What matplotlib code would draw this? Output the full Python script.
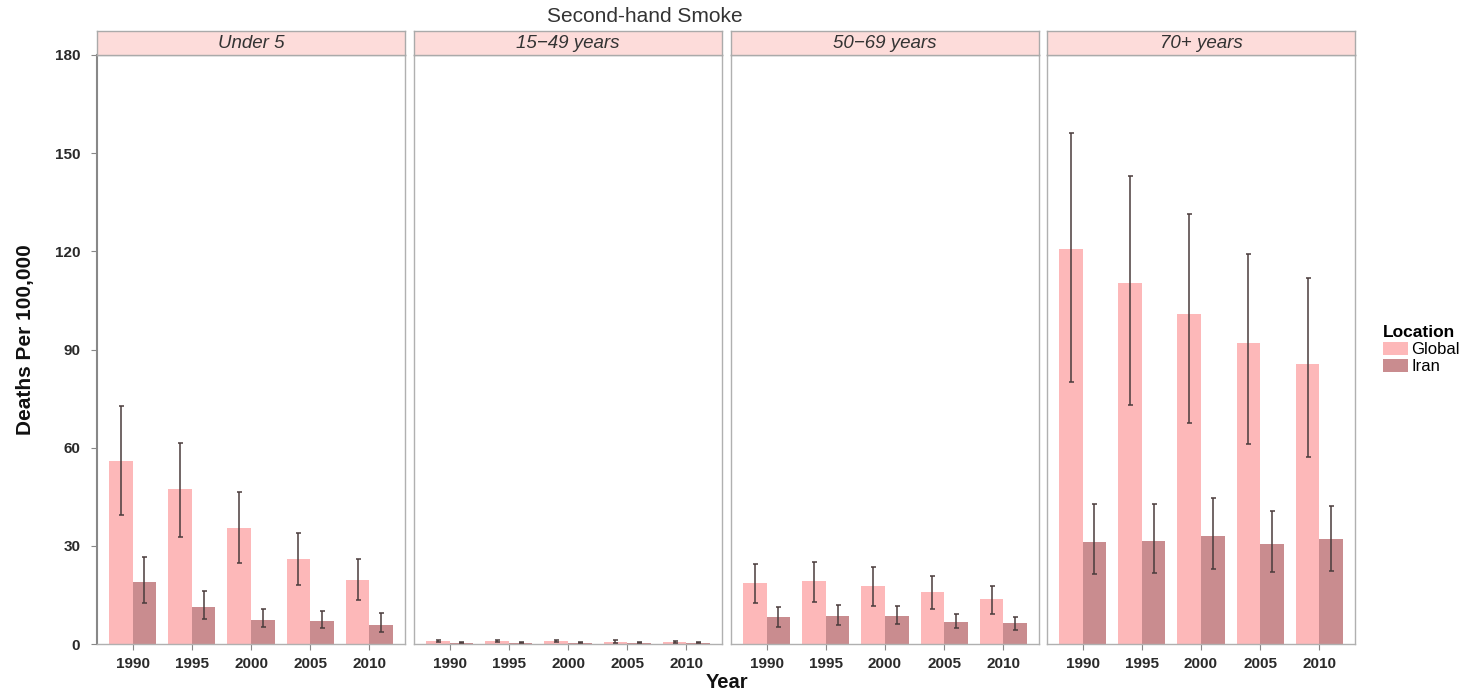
import matplotlib
matplotlib.use("Agg")
import matplotlib.pyplot as plt
import numpy as np
from matplotlib.patches import Patch
from matplotlib import font_manager

plt.rcParams["font.family"] = ["Liberation Sans", "DejaVu Sans"]

years = ["1990", "1995", "2000", "2005", "2010"]
age_groups = ["Under 5", "15\u221249 years", "50\u221269 years", "70+ years"]

# Deaths per 100,000 (mean, lower, upper) per age group
global_mean = [
    [55.9, 47.4, 35.4, 25.9, 19.6],
    [0.8, 0.8, 0.8, 0.7, 0.7],
    [18.7, 19.3, 17.7, 16.0, 13.7],
    [120.6, 110.2, 101.0, 91.9, 85.6],
]
global_low = [
    [39.4, 32.8, 24.7, 18.0, 13.4],
    [0.5, 0.5, 0.5, 0.4, 0.4],
    [12.4, 12.7, 11.7, 10.6, 9.2],
    [80.2, 73.0, 67.4, 61.1, 57.2],
]
global_high = [
    [72.7, 61.3, 46.6, 34.0, 26.0],
    [1.2, 1.2, 1.2, 1.1, 1.0],
    [24.3, 25.2, 23.4, 20.9, 17.8],
    [156.1, 143.0, 131.4, 119.2, 111.8],
]
iran_mean = [
    [19.0, 11.4, 7.3, 7.1, 5.8],
    [0.4, 0.4, 0.3, 0.3, 0.3],
    [8.1, 8.7, 8.6, 6.8, 6.3],
    [31.3, 31.6, 33.1, 30.6, 32.0],
]
iran_low = [
    [12.6, 7.5, 5.1, 5.0, 3.8],
    [0.2, 0.2, 0.2, 0.2, 0.2],
    [5.3, 5.8, 6.0, 4.8, 4.3],
    [21.4, 21.6, 22.9, 21.9, 22.4],
]
iran_high = [
    [26.6, 16.3, 10.6, 10.2, 9.4],
    [0.6, 0.6, 0.5, 0.5, 0.5],
    [11.2, 11.9, 11.7, 9.2, 8.4],
    [42.7, 42.7, 44.5, 40.7, 42.2],
]
y_ticks = [0, 30, 60, 90, 120, 150, 180]

GLOBAL_COLOR = "#fdb8b9"
IRAN_COLOR = "#c98c8f"
ERR_COLOR = "#4a3c3c"
W, H = 1480, 692

# condensed face for the y label, if one is installed
installed = {f.name for f in font_manager.fontManager.ttflist}
narrow = [n for n in ["Liberation Sans Narrow", "DejaVu Sans Condensed"] if n in installed]
ylab_family = narrow + ["Liberation Sans", "DejaVu Sans"]

fig = plt.figure(figsize=(W / 100, H / 100), dpi=100)

panel_left = [97, 414, 731, 1047]
panel_w = 308
panel_top, panel_bot = 55, 644
strip_h = 24

x = np.arange(len(years))
bw = 0.4

for i, name in enumerate(age_groups):
    ax = fig.add_axes([panel_left[i] / W, 1 - panel_bot / H,
                       panel_w / W, (panel_bot - panel_top) / H])
    gm = np.array(global_mean[i])
    im = np.array(iran_mean[i])
    ax.bar(x - bw / 2, gm, bw, color=GLOBAL_COLOR, zorder=2)
    ax.bar(x + bw / 2, im, bw, color=IRAN_COLOR, zorder=2)
    ax.errorbar(x - bw / 2, gm,
                yerr=[gm - np.array(global_low[i]), np.array(global_high[i]) - gm],
                fmt="none", ecolor=ERR_COLOR, elinewidth=1.1, capsize=1.8, capthick=1.1, zorder=3)
    ax.errorbar(x + bw / 2, im,
                yerr=[im - np.array(iran_low[i]), np.array(iran_high[i]) - im],
                fmt="none", ecolor=ERR_COLOR, elinewidth=1.1, capsize=1.8, capthick=1.1, zorder=3)
    ax.set_xlim(-0.6, len(years) - 0.4)
    ax.set_ylim(0, 180)
    ax.set_xticks(x)
    ax.set_xticklabels(years, fontsize=11, fontweight="bold", color="#2a2a2a")
    ax.tick_params(axis="x", color="#888888", length=4, width=0.8, pad=5)
    ax.set_yticks(y_ticks)
    if i == 0:
        ax.set_yticklabels([str(t) for t in y_ticks], fontsize=11,
                           fontweight="bold", color="#2a2a2a")
        ax.tick_params(axis="y", color="#888888", length=4, width=0.8, pad=8)
    else:
        ax.set_yticklabels([])
        ax.tick_params(axis="y", length=0)
    for s in ax.spines.values():
        s.set_color("#b0b0b0")
        s.set_linewidth(1.0)
    if i == 0:
        ax.spines["left"].set_color("#888888")
        ax.spines["left"].set_linewidth(1.5)

    # facet strip
    sax = fig.add_axes([panel_left[i] / W, 1 - panel_top / H,
                        panel_w / W, strip_h / H])
    sax.set_facecolor("#fddcda")
    sax.set_xticks([])
    sax.set_yticks([])
    for s in sax.spines.values():
        s.set_color("#aaaaaa")
        s.set_linewidth(1.0)
    sax.text(0.5, 0.5, name, ha="center", va="center", fontsize=13.5,
             style="italic", color="#333333", transform=sax.transAxes)

fig.text(645 / W, 1 - 17 / H, "Second-hand Smoke", ha="center", va="center",
         fontsize=15, color="#333333")
fig.text(727 / W, 1 - 683 / H, "Year", ha="center", va="center",
         fontsize=14.5, fontweight="bold", color="#111111")
fig.text(26 / W, 1 - 340 / H, "Deaths Per 100,000", ha="center", va="center",
         rotation=90, fontsize=15, family=ylab_family,
         fontweight="bold", color="#111111")

handles = [Patch(facecolor=GLOBAL_COLOR, label="Global"),
           Patch(facecolor=IRAN_COLOR, label="Iran")]
leg = fig.legend(handles=handles, title="Location", loc="upper left",
                 bbox_to_anchor=(1383 / W, 1 - 325 / H), frameon=False,
                 fontsize=12, title_fontsize=12.5, handlelength=1.5,
                 handleheight=0.85, handletextpad=0.2, labelspacing=0.1,
                 borderpad=0, borderaxespad=0, alignment="left")
leg.get_title().set_fontweight("bold")

fig.savefig("out.png", dpi=100)
